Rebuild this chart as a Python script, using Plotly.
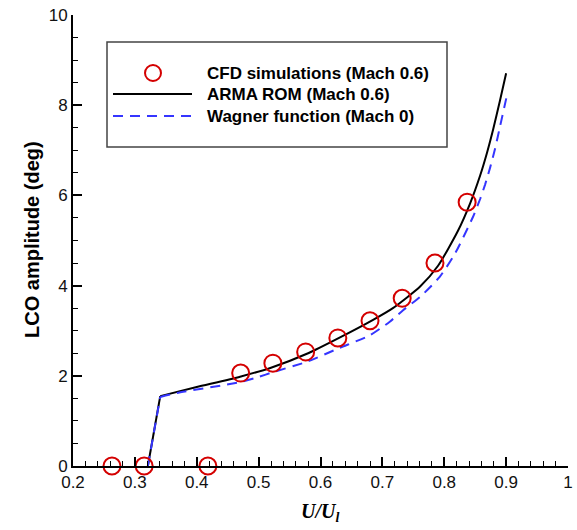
import plotly.graph_objects as go

# ---- data ----
cfd_x = [0.263, 0.315, 0.418, 0.471, 0.523, 0.576, 0.628, 0.680, 0.732, 0.785, 0.837]
cfd_y = [0.0, 0.0, 0.0, 2.06, 2.28, 2.53, 2.84, 3.22, 3.72, 4.50, 5.85]

# onset (near-vertical jump) segments
arma_jump_x = [0.321, 0.341]
arma_jump_y = [0.0, 1.55]
wag_jump_x = [0.321, 0.341]
wag_jump_y = [0.0, 1.53]

# post-onset branches
arma_x = [0.341, 0.40, 0.47, 0.52, 0.58, 0.63, 0.685, 0.717, 0.761, 0.79,
          0.822, 0.842, 0.858, 0.869, 0.879, 0.890, 0.900]
arma_y = [1.55, 1.75, 1.98, 2.18, 2.5, 2.84, 3.24, 3.5, 3.98, 4.44,
          5.21, 5.83, 6.44, 6.94, 7.46, 8.1, 8.71]

wag_x = [0.341, 0.368, 0.47, 0.499, 0.523, 0.578, 0.631, 0.68, 0.712, 0.733,
         0.761, 0.793, 0.817, 0.846, 0.858, 0.866, 0.874, 0.882, 0.890, 0.901]
wag_y = [1.53, 1.62, 1.86, 1.97, 2.08, 2.31, 2.62, 2.9, 3.2, 3.45,
         3.75, 4.2, 4.7, 5.51, 5.92, 6.24, 6.61, 7.03, 7.52, 8.2]

x_ticks = [0.2, 0.3, 0.4, 0.5, 0.6, 0.7, 0.8, 0.9, 1.0]
x_tick_labels = ["0.2", "0.3", "0.4", "0.5", "0.6", "0.7", "0.8", "0.9", "1"]
y_ticks = [0, 2, 4, 6, 8, 10]
y_tick_labels = ["0", "2", "4", "6", "8", "10"]

legend_labels = ["CFD simulations (Mach 0.6)", "ARMA ROM (Mach 0.6)", "Wagner function (Mach 0)"]

RED = "#d40000"
BLUE = "#3535ff"
SANS = "Arial, Liberation Sans, sans-serif"
BLUE_DASH = "10px,7px"

fig = go.Figure()
fig.add_trace(go.Scatter(x=arma_jump_x, y=arma_jump_y, mode="lines", name=legend_labels[1],
                         line=dict(color="black", width=2), cliponaxis=False))
fig.add_trace(go.Scatter(x=arma_x, y=arma_y, mode="lines", name=legend_labels[1],
                         line=dict(color="black", width=2, shape="spline", smoothing=0.6),
                         cliponaxis=False))
fig.add_trace(go.Scatter(x=wag_jump_x, y=wag_jump_y, mode="lines", name=legend_labels[2],
                         line=dict(color=BLUE, width=2, dash=BLUE_DASH), cliponaxis=False))
fig.add_trace(go.Scatter(x=wag_x, y=wag_y, mode="lines", name=legend_labels[2],
                         line=dict(color=BLUE, width=2, dash=BLUE_DASH, shape="spline",
                                   smoothing=0.6),
                         cliponaxis=False))
fig.add_trace(go.Scatter(x=cfd_x, y=cfd_y, mode="markers", name=legend_labels[0],
                         marker=dict(symbol="circle-open", size=17, color=RED,
                                     line=dict(color=RED, width=2)),
                         cliponaxis=False))

axis_common = dict(showline=True, linecolor="black", linewidth=2, mirror=False,
                   showgrid=False, zeroline=False, ticks="inside", ticklen=9,
                   tickwidth=2, tickcolor="black", automargin=False,
                   tickfont=dict(family=SANS, size=17, color="#111"))

fig.update_xaxes(range=[0.2, 1.0], tickvals=x_ticks, ticktext=x_tick_labels,
                 minor=dict(dtick=0.02, ticks="inside", ticklen=5, tickwidth=1,
                            tickcolor="black", showgrid=False),
                 **axis_common)
fig.update_yaxes(range=[0, 10], tickvals=y_ticks, ticktext=y_tick_labels,
                 minor=dict(dtick=0.5, ticks="inside", ticklen=5, tickwidth=1,
                            tickcolor="black", showgrid=False),
                 **axis_common)

# plot area in pixels: x 73..568, y 15..466
L, R, T, B = 73, 9, 15, 64
W, H = 577, 530
pw, ph = W - L - R, H - T - B

def px(xp):
    return (xp - L) / pw

def py(yp):
    return (H - B - yp) / ph

shapes = []
annotations = []
# legend box
shapes.append(dict(type="rect", xref="paper", yref="paper",
                   x0=px(107), x1=px(447), y0=py(147), y1=py(42),
                   line=dict(color="#444", width=1.5), fillcolor="white", layer="above"))
# legend marker (circle)
shapes.append(dict(type="circle", xref="paper", yref="paper",
                   xsizemode="pixel", ysizemode="pixel",
                   xanchor=px(153), yanchor=py(73),
                   x0=-8, x1=8, y0=-8, y1=8,
                   line=dict(color=RED, width=2), layer="above"))
# legend line samples
shapes.append(dict(type="line", xref="paper", yref="paper",
                   x0=px(113), x1=px(192), y0=py(94), y1=py(94),
                   line=dict(color="black", width=2), layer="above"))
shapes.append(dict(type="line", xref="paper", yref="paper",
                   x0=px(113), x1=px(192), y0=py(116), y1=py(116),
                   line=dict(color=BLUE, width=2, dash=BLUE_DASH), layer="above"))
for lab, yy in zip(legend_labels, [73, 94, 116]):
    annotations.append(dict(xref="paper", yref="paper", x=px(205), y=py(yy),
                            xanchor="left", yanchor="middle", showarrow=False,
                            text="<b>" + lab + "</b>",
                            font=dict(family=SANS, size=17, color="black")))

# axis titles
annotations.append(dict(xref="paper", yref="paper", x=px(320), y=py(512),
                        xanchor="center", yanchor="middle", showarrow=False,
                        text="<b><i>U/U<sub>l</sub></i></b>",
                        font=dict(family="Times New Roman, Liberation Serif, serif",
                                  size=20, color="black")))
annotations.append(dict(xref="paper", yref="paper", x=px(32), y=py(240),
                        xanchor="center", yanchor="middle", showarrow=False,
                        textangle=-90, text="<b>LCO amplitude (deg)</b>",
                        font=dict(family=SANS, size=20, color="black")))

fig.update_layout(width=W, height=H, margin=dict(l=L, r=R, t=T, b=B),
                  paper_bgcolor="white", plot_bgcolor="white",
                  showlegend=False, shapes=shapes, annotations=annotations)

fig.write_html("out.html")
